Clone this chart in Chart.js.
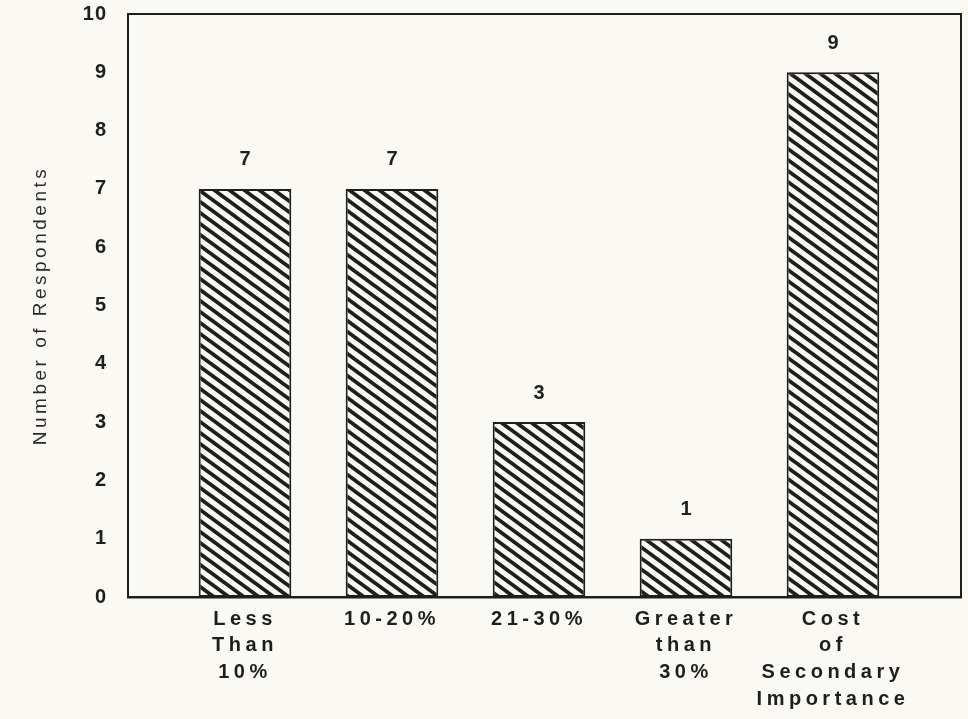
<!DOCTYPE html>
<html>
<head>
<meta charset="utf-8">
<script src="https://cdn.jsdelivr.net/npm/chart.js@4.4.0/dist/chart.umd.min.js"></script>
<style>
  html, body { margin: 0; padding: 0; background: #fbf9f4; }
  #wrap { width: 968px; height: 719px; }
</style>
</head>
<body>
<div id="wrap"><canvas id="grafico"></canvas></div>
<script>
// data
var categorias = [
  ['Less', 'Than', '10%'],
  ['10-20%'],
  ['21-30%'],
  ['Greater', 'than', '30%'],
  ['Cost', 'of', 'Secondary', 'Importance']
];
var respondentes = [7, 7, 3, 1, 9];
var ticksY = [0, 1, 2, 3, 4, 5, 6, 7, 8, 9, 10];

var fondo = '#fbf9f4';
var tinta = '#1e1e1e';

function crearRayado() {
  var w = 15, h = 11;
  var c = document.createElement('canvas');
  c.width = w; c.height = h;
  var g = c.getContext('2d');
  g.fillStyle = fondo;
  g.fillRect(0, 0, w, h);
  g.strokeStyle = tinta;
  g.lineWidth = 3.8;
  for (var k = -1; k <= 1; k++) {
    g.beginPath();
    g.moveTo(k * w - w, -h);
    g.lineTo(k * w + 2 * w, 2 * h);
    g.stroke();
  }
  return g.createPattern(c, 'repeat');
}

function espaciar(scale, metodo, valor) {
  var original = scale[metodo];
  scale[metodo] = function (area) {
    var ctx = this.ctx;
    ctx.save();
    ctx.letterSpacing = valor;
    original.call(this, area);
    ctx.restore();
  };
}

var pluginEspacios = {
  id: 'espacios',
  beforeDraw: function (chart) {
    var x = chart.scales.x, y = chart.scales.y;
    if (!x._parcheado) {
      espaciar(x, 'drawLabels', '4.5px');
      x._parcheado = true;
    }
    if (!y._parcheado) {
      espaciar(y, 'drawLabels', '1px');
      espaciar(y, 'drawTitle', '3.5px');
      y._parcheado = true;
    }
  }
};

var pluginCaja = {
  id: 'caja',
  beforeDatasetsDraw: function (chart) {
    var a = chart.chartArea, ctx = chart.ctx;
    ctx.save();
    ctx.strokeStyle = tinta;
    ctx.lineWidth = 2;
    ctx.strokeRect(a.left, a.top, a.right - a.left, a.bottom - a.top);
    ctx.restore();
  }
};

var pluginValores = {
  id: 'valores',
  afterDatasetsDraw: function (chart) {
    var ctx = chart.ctx;
    var meta = chart.getDatasetMeta(0);
    ctx.save();
    ctx.font = 'bold 20px "Liberation Sans", Arial, sans-serif';
    ctx.fillStyle = tinta;
    ctx.textAlign = 'center';
    ctx.textBaseline = 'middle';
    meta.data.forEach(function (bar, i) {
      ctx.fillText(String(respondentes[i]), bar.x, bar.y - 29);
    });
    ctx.restore();
  }
};

document.addEventListener('DOMContentLoaded', function () {
  var ctx = document.getElementById('grafico').getContext('2d');
  var grafico = new Chart(ctx, {
    type: 'bar',
    data: {
      datasets: [{
        data: respondentes.map(function (v, i) { return { x: i, y: v }; }),
        backgroundColor: crearRayado(),
        borderColor: tinta,
        borderWidth: 2,
        borderSkipped: false,
        barPercentage: 0.63,
        categoryPercentage: 1
      }]
    },
    options: {
      responsive: true,
      maintainAspectRatio: false,
      animation: false,
      layout: { padding: { top: 14, right: 7, left: 0, bottom: 0 } },
      plugins: {
        legend: { display: false },
        tooltip: { enabled: false }
      },
      scales: {
        x: {
          type: 'linear',
          offset: false,
          min: -0.796,
          max: 4.871,
          grid: { display: false, drawTicks: false, offset: false },
          border: { display: true, color: tinta, width: 2.5 },
          afterBuildTicks: function (axis) {
            axis.ticks = categorias.map(function (c, i) { return { value: i }; });
          },
          afterFit: function (axis) {
            axis.height = 122;
            axis.paddingLeft = 0;
            axis.paddingRight = 0;
            axis.paddingTop = 0;
            axis.paddingBottom = 0;
          },
          ticks: {
            autoSkip: false,
            maxRotation: 0,
            padding: 9,
            color: tinta,
            font: { family: '"Liberation Sans", Arial, sans-serif', size: 20, weight: 'bold', lineHeight: 1.33 },
            callback: function (value) { return categorias[value]; }
          }
        },
        y: {
          min: 0,
          max: 10,
          grid: { display: false, drawTicks: false },
          border: { display: true, color: tinta, width: 2 },
          afterBuildTicks: function (axis) {
            axis.ticks = ticksY.map(function (v) { return { value: v }; });
          },
          afterFit: function (axis) {
            axis.width = 128;
            axis.paddingTop = 0;
            axis.paddingBottom = 0;
            axis.paddingLeft = 0;
            axis.paddingRight = 0;
          },
          ticks: {
            padding: 21,
            color: tinta,
            font: { family: '"Liberation Sans", Arial, sans-serif', size: 20, weight: 'bold' }
          },
          title: {
            display: true,
            text: 'Number of Respondents',
            color: '#2a2a2a',
            padding: { top: 29, bottom: 0 },
            font: { family: '"Liberation Sans", Arial, sans-serif', size: 19, weight: 'normal' }
          }
        }
      }
    },
    plugins: [pluginEspacios, pluginCaja, pluginValores]
  });
});
</script>
</body>
</html>
